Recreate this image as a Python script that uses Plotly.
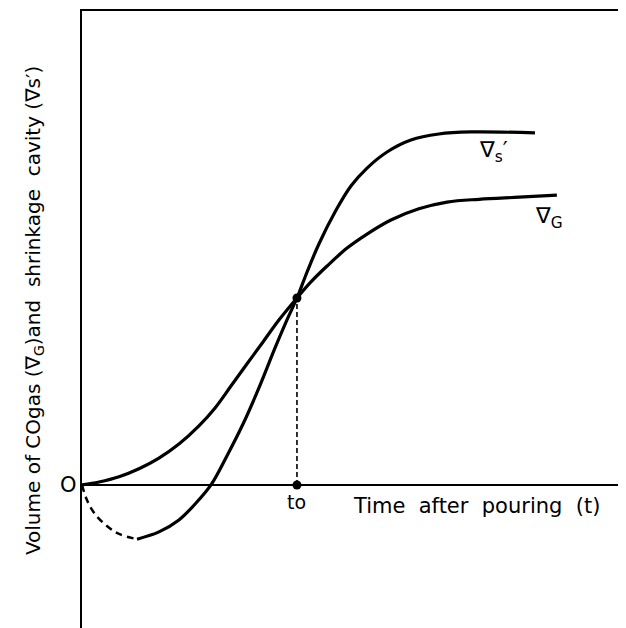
import plotly.graph_objects as go

# Data (arbitrary units: t0 = 1, value at intersection = 1)
vg_t = [0, 0.079, 0.172, 0.265, 0.358, 0.451, 0.544, 0.619, 0.693, 0.767, 0.842, 0.916, 1.0,
        1.065, 1.140, 1.233, 1.326, 1.437, 1.567, 1.698, 1.847, 2.033, 2.209]
vg_v = [0, 0.016, 0.044, 0.087, 0.144, 0.219, 0.316, 0.412, 0.529, 0.647, 0.765, 0.882, 1.0,
        1.086, 1.171, 1.267, 1.342, 1.417, 1.477, 1.513, 1.528, 1.539, 1.550]

vs_dash_t = [0, 0.023, 0.060, 0.116, 0.172, 0.256]
vs_dash_v = [0, -0.080, -0.155, -0.219, -0.262, -0.290]

vs_t = [0.256, 0.358, 0.451, 0.526, 0.600, 0.674, 0.749, 0.823, 0.898, 0.953, 1.0,
        1.047, 1.102, 1.177, 1.251, 1.326, 1.419, 1.530, 1.660, 1.809, 2.107]
vs_v = [-0.290, -0.251, -0.187, -0.102, 0, 0.155, 0.326, 0.519, 0.733, 0.882, 1.0,
        1.139, 1.289, 1.460, 1.599, 1.695, 1.781, 1.845, 1.877, 1.888, 1.883]

t0 = 1.0
v_t0 = 1.0

fig = go.Figure()
fig.add_trace(go.Scatter(x=vg_t, y=vg_v, mode="lines", line=dict(color="black", width=3.2, shape="spline"),
                         hoverinfo="skip"))
fig.add_trace(go.Scatter(x=vs_dash_t, y=vs_dash_v, mode="lines",
                         line=dict(color="black", width=2.5, dash="7px,5px", shape="spline"), hoverinfo="skip"))
fig.add_trace(go.Scatter(x=vs_t, y=vs_v, mode="lines", line=dict(color="black", width=3.2, shape="spline"),
                         hoverinfo="skip"))
fig.add_trace(go.Scatter(x=[t0, t0], y=[0, v_t0], mode="lines",
                         line=dict(color="black", width=1.6, dash="5px,3px"), hoverinfo="skip"))
fig.add_trace(go.Scatter(x=[t0, t0], y=[0, v_t0], mode="markers",
                         marker=dict(color="black", size=9), hoverinfo="skip"))

font = "DejaVu Sans"
blk = "black"
ann = [
    dict(x=1.912, y=1.781, xref="x", yref="y", text="∇<sub>s</sub>′", showarrow=False,
         font=dict(size=22, family=font, color=blk)),
    dict(x=2.172, y=1.428, xref="x", yref="y", text="∇<sub>G</sub>", showarrow=False,
         font=dict(size=22, family=font, color=blk)),
    dict(x=1.0, y=-0.091, xref="x", yref="y", text="to", showarrow=False,
         font=dict(size=19, family=font, color=blk)),
    dict(x=1.837, y=-0.112, xref="x", yref="y", text="Time  after  pouring  (t)", showarrow=False,
         font=dict(size=21, family=font, color=blk)),
    dict(x=0, y=0, xref="paper", yref="y", xshift=-14, xanchor="center", text="O", showarrow=False,
         font=dict(size=21, family=font, color=blk)),
    dict(x=0, y=0.93, xref="paper", yref="y", xshift=-48, xanchor="center", yanchor="middle",
         textangle=-90,
         text="Volume of COgas (∇<sub>G</sub>)and  shrinkage  cavity (∇s′)", showarrow=False,
         font=dict(size=20, family=font, color=blk)),
]

# the page body has an 8px default margin; figure is sized/offset to land on the reference pixels
fig.update_layout(
    width=618, height=620,
    margin=dict(l=74, r=7, t=3, b=0),
    paper_bgcolor="white", plot_bgcolor="white",
    showlegend=False,
    annotations=ann,
    xaxis=dict(range=[0, 2.498], showgrid=False, zeroline=False, showticklabels=False, ticks="",
               showline=True, side="top", linecolor="black", linewidth=2),
    yaxis=dict(range=[-0.765, 2.535], showgrid=False, zeroline=True, zerolinecolor="black",
               zerolinewidth=2, showticklabels=False, ticks="",
               showline=True, mirror=True, linecolor="black", linewidth=2),
)

fig.write_html("out.html")
